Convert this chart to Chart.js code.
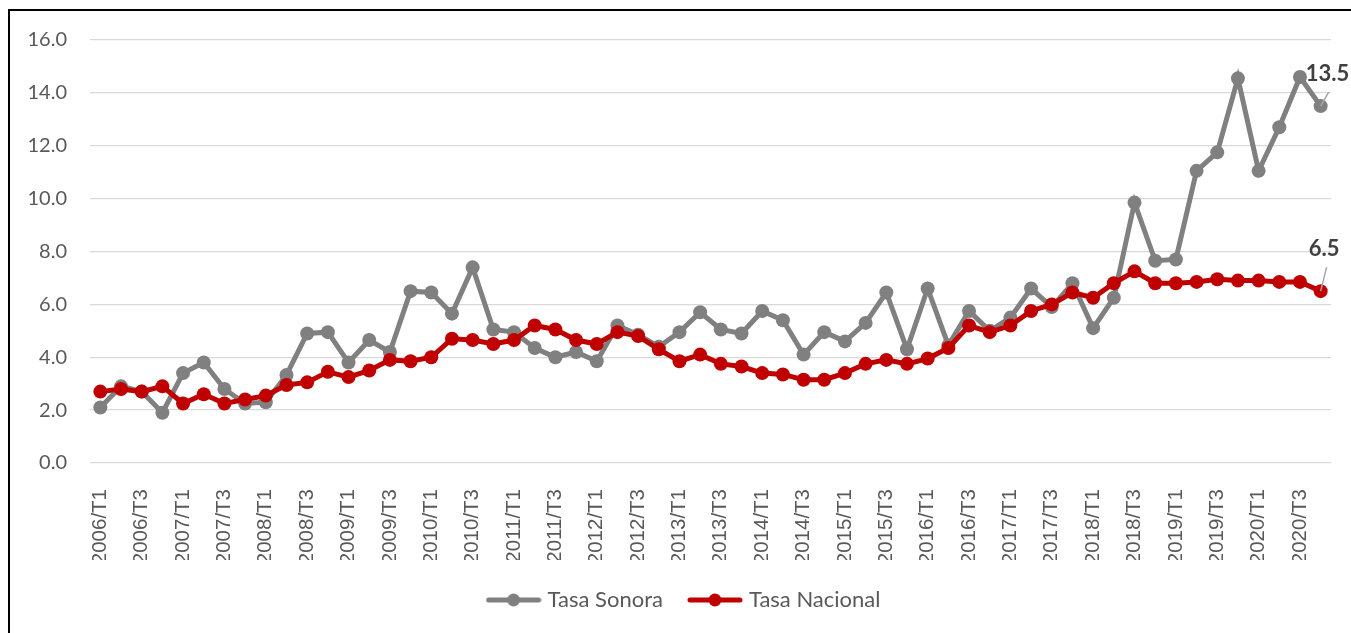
<!DOCTYPE html>
<html>
<head>
<meta charset="utf-8">
<script src="https://cdn.jsdelivr.net/npm/chart.js@4.4.0/dist/chart.umd.min.js"></script>
<style>
  html, body { margin: 0; padding: 0; background: #fff; overflow: hidden; }
  #wrap { position: relative; width: 1351px; height: 633px; }
  #frame { position: absolute; left: 8px; top: 9px; width: 1400px; height: 700px; border: 2px solid #000; pointer-events: none; }
  canvas { position: absolute; left: 0; top: 0; }
</style>
</head>
<body>
<div id="wrap">
  <canvas id="chart" width="1351" height="633"></canvas>
  <div id="frame"></div>
</div>
<script>
// --- Data ---
const years = [2006, 2007, 2008, 2009, 2010, 2011, 2012, 2013, 2014, 2015, 2016, 2017, 2018, 2019, 2020];
const quarters = ['T1', 'T2', 'T3', 'T4'];
const labels = [];
years.forEach(y => quarters.forEach(q => labels.push(`${y}/${q}`)));

const tasaSonora = [
  2.1, 2.9, 2.7, 1.9, 3.4, 3.8, 2.8, 2.25, 2.3, 3.33,
  4.9, 4.95, 3.8, 4.65, 4.2, 6.5, 6.45, 5.65, 7.4, 5.05,
  4.95, 4.35, 4.0, 4.2, 3.85, 5.2, 4.85, 4.4, 4.95, 5.7,
  5.05, 4.9, 5.75, 5.4, 4.1, 4.95, 4.6, 5.3, 6.45, 4.3,
  6.6, 4.45, 5.75, 5.0, 5.5, 6.6, 5.9, 6.8, 5.1, 6.25,
  9.85, 7.65, 7.7, 11.05, 11.75, 14.55, 11.05, 12.7, 14.6, 13.5
];
const tasaNacional = [
  2.7, 2.8, 2.7, 2.9, 2.25, 2.6, 2.25, 2.4, 2.55, 2.95,
  3.05, 3.45, 3.25, 3.5, 3.9, 3.85, 4.0, 4.7, 4.65, 4.5,
  4.65, 5.2, 5.05, 4.65, 4.5, 4.95, 4.8, 4.3, 3.85, 4.1,
  3.75, 3.65, 3.4, 3.35, 3.15, 3.15, 3.4, 3.75, 3.9, 3.75,
  3.95, 4.35, 5.2, 4.95, 5.2, 5.75, 6.0, 6.45, 6.25, 6.8,
  7.25, 6.8, 6.8, 6.85, 6.95, 6.9, 6.9, 6.85, 6.85, 6.5
];

const seriesNames = ['Tasa Sonora', 'Tasa Nacional'];
const seriesColors = ['#808080', '#C00000'];

// legend icon: short line with a dot in the middle
function legendIcon(color) {
  const c = document.createElement('canvas');
  c.width = 56; c.height = 16;
  const g = c.getContext('2d');
  g.strokeStyle = color; g.fillStyle = color;
  g.lineWidth = 5; g.lineCap = 'round';
  g.beginPath(); g.moveTo(3, 8); g.lineTo(53, 8); g.stroke();
  g.beginPath(); g.arc(28, 8, 6.5, 0, Math.PI * 2); g.fill();
  return c;
}

// labels on the last point of each series, with a short leader line
const endLabels = {
  id: 'endLabels',
  afterDatasetsDraw(chart) {
    const ctx = chart.ctx;
    chart.data.datasets.forEach((ds, i) => {
      const meta = chart.getDatasetMeta(i);
      const pt = meta.data[meta.data.length - 1];
      const v = ds.data[ds.data.length - 1];
      const o = ds.endLabel;
      ctx.save();
      ctx.strokeStyle = '#a6a6a6';
      ctx.lineWidth = 1.5;
      ctx.beginPath();
      ctx.moveTo(pt.x + o.lx, pt.y + o.ly);
      ctx.lineTo(pt.x, pt.y);
      ctx.stroke();
      ctx.fillStyle = '#404040';
      ctx.font = 'bold 22px Lato';
      ctx.textAlign = 'left';
      ctx.textBaseline = 'alphabetic';
      ctx.fillText(v.toFixed(1), pt.x + o.tx, pt.y + o.ty);
      ctx.restore();
    });
  }
};

const ctx = document.getElementById('chart').getContext('2d');
new Chart(ctx, {
  type: 'line',
  data: {
    labels: labels,
    datasets: [
      {
        label: seriesNames[0],
        data: tasaSonora,
        borderColor: seriesColors[0],
        backgroundColor: seriesColors[0],
        borderWidth: 5,
        pointRadius: 7,
        pointBorderWidth: 0,
        tension: 0,
        order: 1,
        endLabel: { lx: 8, ly: -14, tx: -15, ty: -25 }
      },
      {
        label: seriesNames[1],
        data: tasaNacional,
        borderColor: seriesColors[1],
        backgroundColor: seriesColors[1],
        borderWidth: 5,
        pointRadius: 7,
        pointBorderWidth: 0,
        tension: 0,
        order: 0,
        endLabel: { lx: 6, ly: -24, tx: -12, ty: -35 }
      }
    ]
  },
  options: {
    responsive: false,
    animation: false,
    layout: { padding: { left: 20, right: 0, top: 40, bottom: 12 } },
    plugins: {
      tooltip: { enabled: false },
      legend: {
        position: 'bottom',
        labels: {
          usePointStyle: true,
          pointStyleWidth: 46,
          padding: 29,
          color: '#595959',
          font: { family: 'Lato', size: 22 },
          sort: (a, b) => a.datasetIndex - b.datasetIndex,
          generateLabels: chart => Chart.defaults.plugins.legend.labels.generateLabels(chart).map(item => {
            item.pointStyle = legendIcon(seriesColors[item.datasetIndex]);
            return item;
          })
        }
      }
    },
    scales: {
      x: {
        offset: true,
        grid: { display: false },
        border: { display: false },
        afterFit: scale => {
          scale.height = 97;
          scale.paddingLeft = 0;
          scale.paddingRight = 20;
        },
        ticks: {
          autoSkip: false,
          maxRotation: 90,
          minRotation: 90,
          padding: 18,
          color: '#595959',
          font: { family: 'Liberation Sans', size: 20.5 },
          callback: function (val, i) { return i % 2 === 0 ? this.getLabelForValue(val) : ''; }
        }
      },
      y: {
        min: 0,
        max: 16,
        afterFit: scale => { scale.width = 70; },
        grid: { color: '#d9d9d9', lineWidth: 1.3, drawTicks: false },
        border: { display: false },
        ticks: {
          stepSize: 2,
          padding: 23,
          color: '#595959',
          font: { family: 'Lato', size: 20 },
          callback: v => v.toFixed(1)
        }
      }
    }
  },
  plugins: [endLabels]
});
</script>
</body>
</html>
